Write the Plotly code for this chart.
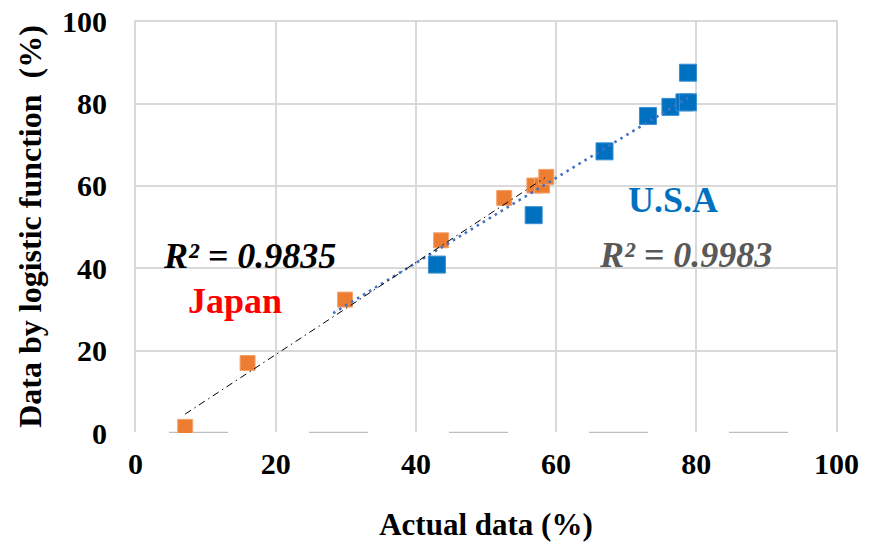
import plotly.graph_objects as go

# ---- data ----
japan_x = [7.1, 16.0, 29.9, 43.6, 52.6, 56.9, 58.0, 58.6]
japan_y = [1.5, 17.0, 32.4, 46.8, 57.1, 60.1, 60.1, 62.2]
usa_x = [43.0, 56.8, 66.9, 73.1, 76.3, 78.3, 78.8, 78.8]
usa_y = [40.9, 52.9, 68.4, 77.0, 79.2, 80.3, 80.3, 87.5]
japan_trend_x = [7.1, 58.4]
japan_trend_y = [4.6, 62.0]
usa_trend_x = [28.2, 78.8]
usa_trend_y = [29.1, 81.4]
tick_vals = [0, 20, 40, 60, 80, 100]
japan_r2 = "R² = 0.9835"
usa_r2 = "R² = 0.9983"

FONT = "Liberation Serif"
GRID = "#D9D9D9"

fig = go.Figure()
fig.add_trace(go.Scatter(
    x=usa_x, y=usa_y, mode="markers", name="U.S.A",
    marker=dict(symbol="square", size=17, color="#0070C0",
                line=dict(color="#3C8ED0", width=1))))
fig.add_trace(go.Scatter(
    x=japan_x, y=japan_y, mode="markers", name="Japan",
    marker=dict(symbol="square", size=15, color="#ED7D31",
                line=dict(color="#F4A36C", width=1))))
fig.add_trace(go.Scatter(
    x=usa_trend_x, y=usa_trend_y, mode="lines", name="USA trend",
    line=dict(color="#4472C4", width=2.6, dash="2.6px,4.4px")))
fig.add_trace(go.Scatter(
    x=japan_trend_x, y=japan_trend_y, mode="lines", name="Japan trend",
    line=dict(color="#000000", width=1, dash="7px,4px,1.5px,4px")))

# broken baseline segments at y = 0
fig.add_shape(type="line", xref="x", yref="y", x0=4.8, x1=100, y0=0, y1=0,
              line=dict(color="#BFBFBF", width=2.5, dash="59px,81px"),
              layer="between")

fig.add_annotation(x=16.2, y=43.0, text="<b><i>" + japan_r2 + "</i></b>",
                   showarrow=False, font=dict(family=FONT, size=36, color="#000000"))
fig.add_annotation(x=14.2, y=32.0, text="<b>Japan</b>",
                   showarrow=False, font=dict(family=FONT, size=36, color="#FF0000"))
fig.add_annotation(x=76.6, y=56.7, text="<b>U.S.A</b>",
                   showarrow=False, font=dict(family=FONT, size=36, color="#0070C0"))
fig.add_annotation(x=78.5, y=43.3, text="<b><i>" + usa_r2 + "</i></b>",
                   showarrow=False, font=dict(family=FONT, size=36, color="#595959"))

fig.update_layout(
    width=871, height=542,
    margin=dict(l=134, r=33, t=20, b=109),
    paper_bgcolor="white", plot_bgcolor="white",
    showlegend=False,
    font=dict(family=FONT, color="#000000"),
)
# ranges padded by ~1px so the edge gridlines (x=0, x=100, y=100) are drawn
fig.update_xaxes(
    range=[-0.2, 100.2], tickvals=tick_vals, ticktext=[str(v) for v in tick_vals],
    showgrid=True, gridcolor=GRID, gridwidth=1.5,
    zeroline=False, showline=False, automargin=False,
    ticklabeloverflow="allow",
    ticks="outside", ticklen=4, tickcolor="rgba(0,0,0,0)",
    tickfont=dict(family=FONT, size=30, color="#000000", weight="bold"),
    title=dict(text="<b>Actual data (%)</b>", font=dict(family=FONT, size=31), standoff=38),
)
fig.update_yaxes(
    range=[0, 100.3], tickvals=tick_vals, ticktext=[str(v) for v in tick_vals],
    showgrid=True, gridcolor=GRID, gridwidth=1.5,
    zeroline=True, zerolinecolor="white", zerolinewidth=2,
    showline=False, automargin=False,
    ticklabeloverflow="allow",
    ticks="outside", ticklen=20, tickcolor="rgba(0,0,0,0)",
    tickfont=dict(family=FONT, size=30, color="#000000", weight="bold"),
    title=dict(text="<b>Data by logistic function\u00a0\u00a0(%)</b>", font=dict(family=FONT, size=32), standoff=10),
)

fig.write_html("out.html", config={"displayModeBar": False})

# remove the browser's default 8px body margin so the figure fills the window
with open("out.html", "r", encoding="utf-8") as f:
    html = f.read()
html = html.replace("<head>", "<head><style>html,body{margin:0;padding:0;overflow:hidden}</style>", 1)
with open("out.html", "w", encoding="utf-8") as f:
    f.write(html)
